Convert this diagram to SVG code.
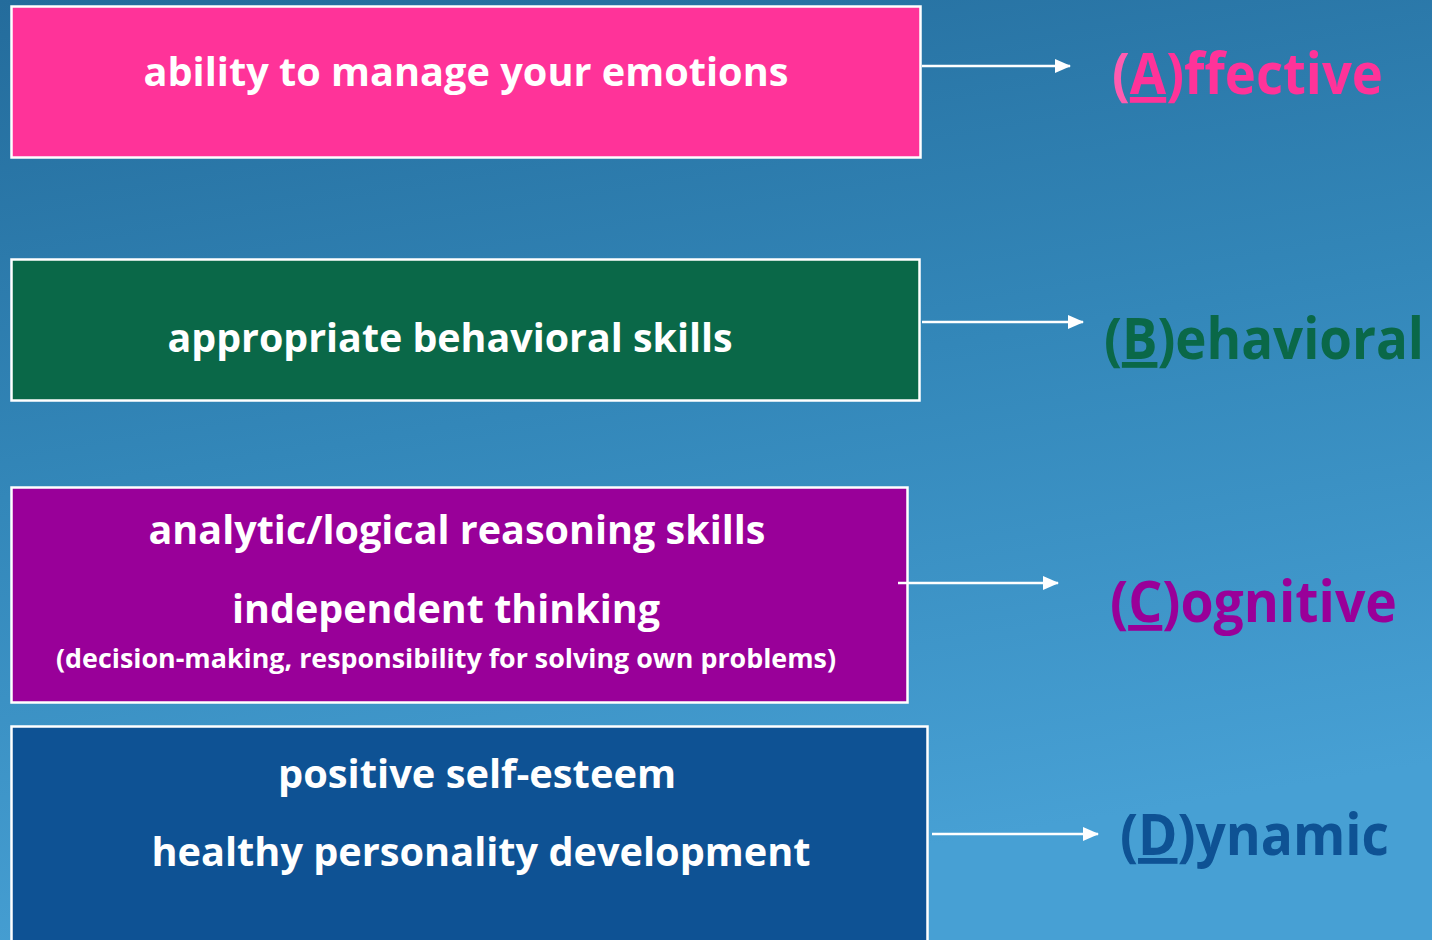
<svg xmlns="http://www.w3.org/2000/svg" width="1432" height="940" viewBox="0 0 1432 940">
<defs>
<linearGradient id="bg" x1="0" y1="0" x2="0.25" y2="1">
<stop offset="0" stop-color="#246c9c"/>
<stop offset="0.5" stop-color="#3387b9"/>
<stop offset="1" stop-color="#47a0d4"/>
</linearGradient>
<marker id="ah" viewBox="0 0 16 14" refX="15" refY="7" markerWidth="16" markerHeight="14" markerUnits="userSpaceOnUse" orient="auto">
<path d="M0,0 L16,7 L0,14 z" fill="#ffffff"/>
</marker>
<style>
.box{stroke:#ffffff;stroke-width:2.5}
.t{font-family:"Open Sans","Lato",sans-serif;font-weight:bold;fill:#ffffff;text-anchor:middle}
.lbl{font-family:"Open Sans","Lato",sans-serif;font-weight:bold;font-size:58px}
.c{stroke:#ffffff;stroke-width:2.5;fill:none}
</style>
</defs>
<rect x="0" y="0" width="1432" height="940" fill="url(#bg)"/>
<g id="node-affective-box">
<rect class="box" x="11.5" y="6.5" width="909" height="151" fill="#ff3399" stroke="#e8e8f0"/>
<text class="t" x="466" y="86" font-size="40" textLength="645" lengthAdjust="spacingAndGlyphs">ability to manage your emotions</text>
</g>
<g id="node-behavioral-box">
<rect class="box" x="11.5" y="259.5" width="908" height="141" fill="#0a6848"/>
<text class="t" x="450" y="352" font-size="40" textLength="565" lengthAdjust="spacingAndGlyphs">appropriate behavioral skills</text>
</g>
<g id="node-cognitive-box">
<rect class="box" x="11.5" y="487.5" width="896" height="215" fill="#990099"/>
<text class="t" x="457" y="544" font-size="40" textLength="617" lengthAdjust="spacingAndGlyphs">analytic/logical reasoning skills</text>
<text class="t" x="446" y="623" font-size="40" textLength="428" lengthAdjust="spacingAndGlyphs">independent thinking</text>
<text class="t" x="446" y="668" font-size="27" textLength="780" lengthAdjust="spacingAndGlyphs">(decision-making, responsibility for solving own problems)</text>
</g>
<g id="node-dynamic-box">
<rect class="box" x="11.5" y="726.5" width="916" height="220" fill="#0e5294"/>
<text class="t" x="477" y="788" font-size="40" textLength="398" lengthAdjust="spacingAndGlyphs">positive self-esteem</text>
<text class="t" x="481" y="866" font-size="40" textLength="659" lengthAdjust="spacingAndGlyphs">healthy personality development</text>
</g>
<g id="connectors">
<line class="c" x1="922" y1="66" x2="1070" y2="66" marker-end="url(#ah)"/>
<line class="c" x1="922" y1="322" x2="1083" y2="322" marker-end="url(#ah)"/>
<line class="c" x1="898" y1="583" x2="1058" y2="583" marker-end="url(#ah)"/>
<line class="c" x1="932" y1="834" x2="1098" y2="834" marker-end="url(#ah)"/>
</g>
<g id="node-affective">
<text class="lbl" x="1112" y="94" fill="#ff3399" textLength="271" lengthAdjust="spacingAndGlyphs"><tspan fill="#ff5cb0">(</tspan><tspan text-decoration="underline">A</tspan>)ffective</text>
</g>
<g id="node-behavioral">
<text class="lbl" x="1104" y="359" fill="#0a6848" textLength="320" lengthAdjust="spacingAndGlyphs">(<tspan text-decoration="underline">B</tspan>)ehavioral</text>
</g>
<g id="node-cognitive">
<text class="lbl" x="1110" y="622" fill="#990099" textLength="287" lengthAdjust="spacingAndGlyphs">(<tspan text-decoration="underline">C</tspan>)ognitive</text>
</g>
<g id="node-dynamic">
<text class="lbl" x="1120" y="855" fill="#0e5294" textLength="269" lengthAdjust="spacingAndGlyphs">(<tspan text-decoration="underline">D</tspan>)ynamic</text>
</g>
</svg>
